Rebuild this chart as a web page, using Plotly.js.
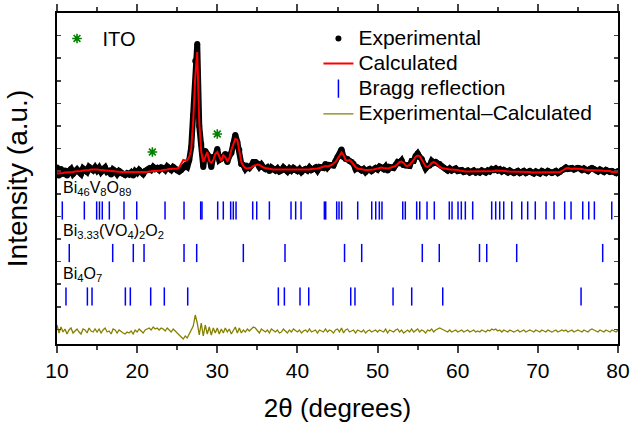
<!DOCTYPE html>
<html>
<head>
<meta charset="utf-8">
<script src="https://cdn.plot.ly/plotly-3.0.1.min.js"></script>
<style>html,body{margin:0;padding:0;background:#fff;}#chart{width:630px;height:427px;}</style>
</head>
<body>
<div id="chart"></div>
<script>
// 2θ grid: starts at 10°, step 0.25° (281 points)
const twoThetaStart = 10;
const twoThetaStep = 0.25;

// Calculated (Rietveld) profile, arbitrary intensity units
const calculated = [
170.5,170.5,171,171,171.5,171.5,172,172,172,172.5, 172.5,173,173,173.5,173.5,174,174,174.5,174.7,174.7,
174.5,174.2,174,173.5,173.5,173,173,172.5,172.5,172, 172,172,172,172,172,171.8,171.5,171.5,171.5,171.8,
172,172,172,172,172,172,172.5,173,173,173, 173,173,173.5,174,174,174.5,175,175,175,175,
175.5,176.5,180,184,183.5,184,187,195,224,267, 292,222,192,182,187,192,183,181,184,190,
192,187,183,189,187,183,186,194,199,205, 204,191,182,178,176,175.5,176,176.5,178,179,
179.5,179,177.5,176.5,176,175.5,175,174.5,174.5,174.5, 174.5,174.5,174.5,174.5,174.5,174.5,174.5,174.5,174,174,
174,174,174,174,174,174.5,174.5,175,175,175.5, 175.5,176,176.5,177,178,177.5,178,179,180.5,182,
185,189,191.5,189,184,183,184,182,179,177, 175.5,175,174.5,174,174,174,174,174,174.5,175,
175.5,176.5,176.5,176,175.5,175.5,176,176.5,177,178, 180,182,182.5,181,178.5,178,179,181,184,187,
188.5,188,184,180,177.5,177,178.5,181,182,181, 178.5,177,176,175.5,175,174.5,174.5,174.5,174.5,174.5,
174,173.5,173,173,172.5,172.5,172.5,172.5,172.5,172.5, 172.5,172.5,172.5,172.5,172.5,172.5,172.5,173,173,173.5,
173.5,173.7,173.5,173,173,172.5,172.5,172,172,172, 172,172,172,172,172,172,172,171.5,171.5,171.5,
171.5,171.5,172,172,172,172,172,172,172,172, 172,172,173,174.5,175.5,176,175.5,175,175.5,175.5,
175,175.5,175,174.5,174,174,174,174,174,173.5, 173.5,173.5,173.5,173,173,173,173,172,172,172,
172
];

// Experimental − Calculated residual
const residual = [
6,-2,4,-1,2,-3,1,3,-2,0, 2,-1,-3,2,1,-2,3,0,-1,2,
-1,2,-2,1,3,-1,0,-3,2,1, -2,1,-1,-2,-3,-1,-2,0,-3,1,
-1,2,0,-2,1,2,3,1,4,2, 3,1,3,2,0,3,1,-1,2,0,
-2,-4,-6,-8,-5,-7,-3,2,5,16, 8,-4,8,-5,6,-3,4,-4,3,-2,
3,-3,2,-2,3,-1,2,-3,1,4, -2,3,-2,1,-1,2,0,2,4,3,
1,-2,2,0,-1,1,-2,2,0,-1, 1,-2,-1,2,0,-2,1,-1,2,0,
-1,1,-2,0,1,-1,2,-1,0,1, -2,1,0,-1,2,-1,1,0,-2,1,
2,-1,3,-2,1,2,-1,0,1,-2, 1,0,-1,1,-2,0,1,-1,0,1,
-1,1,0,-1,2,-2,1,0,-1,1, 2,-1,1,-2,0,1,-1,2,-1,1,
2,-1,1,0,-2,1,0,2,-1,1, 2,3,2,1,0,-1,1,-1,0,1,
-1,0,1,-1,0,1,-1,0,1,-1, 0,-1,1,0,-1,1,0,2,1,2,
0,1,-1,1,0,-1,1,0,-1,0, 1,-1,0,1,-1,0,1,0,-1,1,
0,-1,1,0,-1,1,0,-1,0,1, -1,0,1,0,1,-1,0,1,-1,0,
1,0,-1,1,0,-1,1,2,1,0, -1,1,0,-1,1,0,-1,1,0,-1,
1
];
const diffOffset = 13;

// Bragg reflection positions (2θ)
const braggBi46V8O89 = [10.66,13.41,14.95,15.3,15.65,16.53,18.36,19.95,23.48,25.85,27.93,28.09,30.05,30.75,31.67,32.0,32.34,34.42,34.92,36.5,39.2,39.78,40.45,43.36,43.53,44.9,45.19,45.52,47.52,49.27,49.77,50.22,50.55,53.14,53.46,54.88,55.26,56.17,57.08,58.95,59.29,60.04,60.45,60.95,61.87,64.24,64.74,65.24,65.74,66.74,67.99,68.73,69.68,71.02,72.02,73.35,74.14,75.6,76.35,77.05,79.22];
const braggBi333VO4 = [11.53,16.95,19.52,20.86,25.85,27.43,33.25,38.45,45.88,48.02,55.58,57.70,62.72,63.62,67.36,78.09];
const braggBi4O7 = [11.12,13.79,14.37,18.53,19.15,21.69,23.39,26.31,37.62,38.37,40.32,41.41,46.65,47.18,51.93,54.26,58.13,75.39];
const braggLevels = [133.5, 91, 47.5];
const phaseLabels = ['Bi<sub>46</sub>V<sub>8</sub>O<sub>89</sub>', 'Bi<sub>3.33</sub>(VO<sub>4</sub>)<sub>2</sub>O<sub>2</sub>', 'Bi<sub>4</sub>O<sub>7</sub>'];

// ITO reflections marked with asterisks
const itoX = [21.9, 30.0];
const itoY = [192, 210];

const xTicks = [10,20,30,40,50,60,70,80];

const experimental = calculated.map((c, i) => c + residual[i]);
const difference = residual.map(r => r + diffOffset);

const FONT = 'Liberation Sans, Arial, sans-serif';
const big = s => '<span style="font-size:21px">' + s + '</span>';

const traces = [
  {type:'scatter', x0:twoThetaStart, dx:twoThetaStep, y:experimental, mode:'lines',
   line:{color:'black', width:6}, showlegend:false, hoverinfo:'skip'},
  {type:'scatter', x0:twoThetaStart, dx:twoThetaStep, y:experimental, mode:'markers',
   marker:{color:'black', size:6}, name:big('Experimental')},
  {type:'scatter', x0:twoThetaStart, dx:twoThetaStep, y:calculated, mode:'lines',
   line:{color:'red', width:2}, name:big('Calculated')},
  {type:'scatter', x:braggBi46V8O89, y:braggBi46V8O89.map(() => braggLevels[0]), mode:'markers',
   marker:{symbol:'line-ns-open', size:13, color:'blue', line:{color:'blue', width:1.5}},
   name:big('Bragg reflection'), legendgroup:'bragg'},
  {type:'scatter', x:braggBi333VO4, y:braggBi333VO4.map(() => braggLevels[1]), mode:'markers',
   marker:{symbol:'line-ns-open', size:13, color:'blue', line:{color:'blue', width:1.5}},
   showlegend:false, legendgroup:'bragg'},
  {type:'scatter', x:braggBi4O7, y:braggBi4O7.map(() => braggLevels[2]), mode:'markers',
   marker:{symbol:'line-ns-open', size:13, color:'blue', line:{color:'blue', width:1.5}},
   showlegend:false, legendgroup:'bragg'},
  {type:'scatter', x0:twoThetaStart, dx:twoThetaStep, y:difference, mode:'lines',
   line:{color:'#858000', width:1.3}, name:big('Experimental\u2013Calculated')},
  {type:'scatter', x:itoX, y:itoY, mode:'markers', name:'\u00a0ITO', legend:'legend2',
   marker:{symbol:'asterisk-open', size:8, color:'green', line:{color:'green', width:1.6}}}
];

const annotations = phaseLabels.map((t, k) => ({
  xref:'x', yref:'y', x:10.55, y:braggLevels[k] + 22, text:t, showarrow:false,
  xanchor:'left', yanchor:'middle', font:{family:FONT, size:16, color:'black'}
}));

const layout = {
  width:630, height:427,
  margin:{l:57, r:12, t:13, b:83},
  paper_bgcolor:'white', plot_bgcolor:'white',
  font:{family:FONT, color:'black'},
  showlegend:true,
  xaxis:{
    range:[10,80], tickvals:xTicks, ticks:'outside', ticklen:7, tickwidth:2,
    showline:true, linewidth:2, linecolor:'black', mirror:'ticks',
    showgrid:false, zeroline:false,
    minor:{dtick:5, tick0:10, ticks:'outside', ticklen:4, tickwidth:2, showgrid:false},
    tickfont:{family:FONT, size:21, color:'black'},
    title:{text:'2\u03b8 (degrees)', font:{family:FONT, size:26, color:'black'}, standoff:18}
  },
  yaxis:{
    range:[0,331], tick0:331, dtick:22.6, ticks:'inside', ticklen:4, tickwidth:1.5,
    showticklabels:false, showline:true, linewidth:2, linecolor:'black', mirror:'ticks',
    showgrid:false, zeroline:false,
    title:{text:'Intensity (a.u.)', font:{family:FONT, size:28, color:'black'}, standoff:19}
  },
  legend:{x:0.466, y:0.976, xanchor:'left', yanchor:'top', bgcolor:'rgba(0,0,0,0)',
    font:{family:FONT, size:17, color:'black'}, tracegroupgap:0},
  legend2:{x:0.0, y:0.982, xanchor:'left', yanchor:'top', bgcolor:'rgba(0,0,0,0)',
    font:{family:FONT, size:20, color:'black'}},
  annotations:annotations
};

Plotly.newPlot('chart', traces, layout, {displayModeBar:false, staticPlot:true});
</script>
</body>
</html>
